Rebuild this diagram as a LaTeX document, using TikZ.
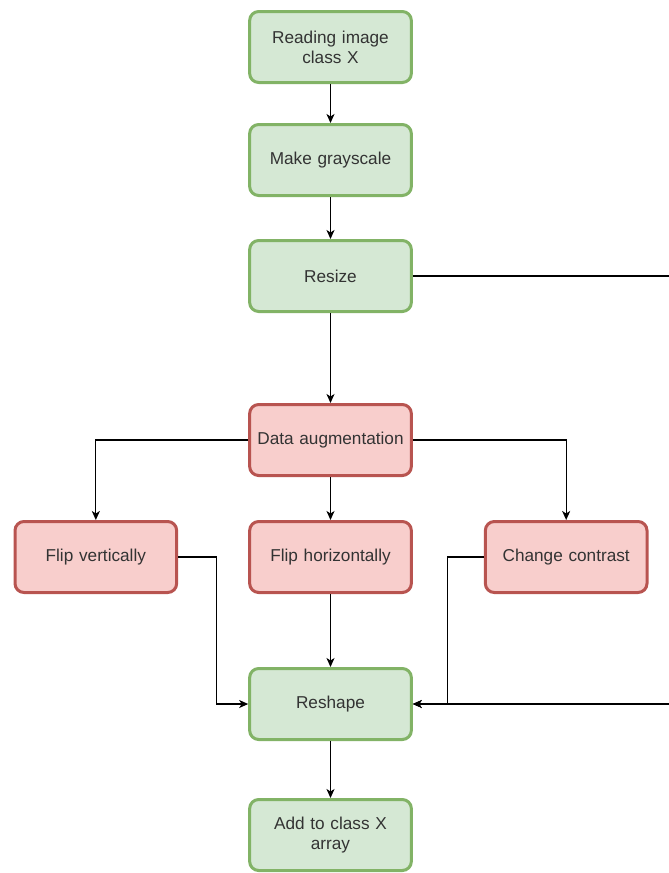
\documentclass[tikz,border=0pt]{standalone}
\usepackage{fontspec}
\setmainfont{Liberation Sans}
\usetikzlibrary{arrows.meta,positioning}

\definecolor{stepfill}{HTML}{D5E8D4}
\definecolor{stepdraw}{HTML}{82B366}
\definecolor{augfill}{HTML}{F8CECC}
\definecolor{augdraw}{HTML}{B85450}
\definecolor{txt}{HTML}{333333}

\begin{document}
\begin{tikzpicture}[
        x=1pt, y=1pt,
        font=\fontsize{17.2}{20}\selectfont,
        box/.style={
            rectangle,
            rounded corners=9pt,
            line width=3pt,
            minimum width=160pt,
            minimum height=71pt,
            text width=155pt,
            align=center,
            text=txt
        },
        stepbox/.style={
            box,
            fill=stepfill,
            draw=stepdraw
        },
        augbox/.style={
            box,
            fill=augfill,
            draw=augdraw
        },
        arrow/.style={
            -{Stealth[length=9pt,width=8pt,inset=2.5pt]},
            line width=1.3pt
        }
    ]
    \useasboundingbox (0,0) rectangle (669,-873);
    % Preprocessing steps
    \node[stepbox] (read) at (330.5,-47) {Reading image\\class X};
    \node[stepbox, below=39pt of read] (gray) {Make grayscale};
    \node[stepbox, below=42pt of gray] (resize) {Resize};
    % Augmentation
    \node[augbox, below=90pt of resize] (aug) {Data augmentation};
    \node[augbox, below=43pt of aug] (fliph) {Flip horizontally};
    \node[augbox, left=70pt of fliph] (flipv) {Flip vertically};
    \node[augbox, right=71pt of fliph] (contrast) {Change contrast};
    % Final steps
    \node[stepbox, below=73pt of fliph] (reshape) {Reshape};
    \node[stepbox, below=57pt of reshape] (add) {Add to class X\\array};
    % Main flow
    \draw[arrow] (read) -- (gray);
    \draw[arrow] (gray) -- (resize);
    \draw[arrow] (resize) -- (aug);
    \draw[arrow] (fliph) -- (reshape);
    \draw[arrow] (reshape) -- (add);
    % Augmentation branches
    \draw[arrow] (aug) -| (flipv);
    \draw[arrow] (aug) -- (fliph);
    \draw[arrow] (aug) -| (contrast);
    \draw[arrow] (flipv.east) -- ++(38,0) |- (reshape.west);
    \draw[arrow] (contrast.west) -- ++(-36,0) |- (reshape.east);
    % Bypass without augmentation
    \draw[arrow] (resize.east) -- ++(262,0) coordinate (edge) |- (reshape.east);
\end{tikzpicture}
\end{document}
